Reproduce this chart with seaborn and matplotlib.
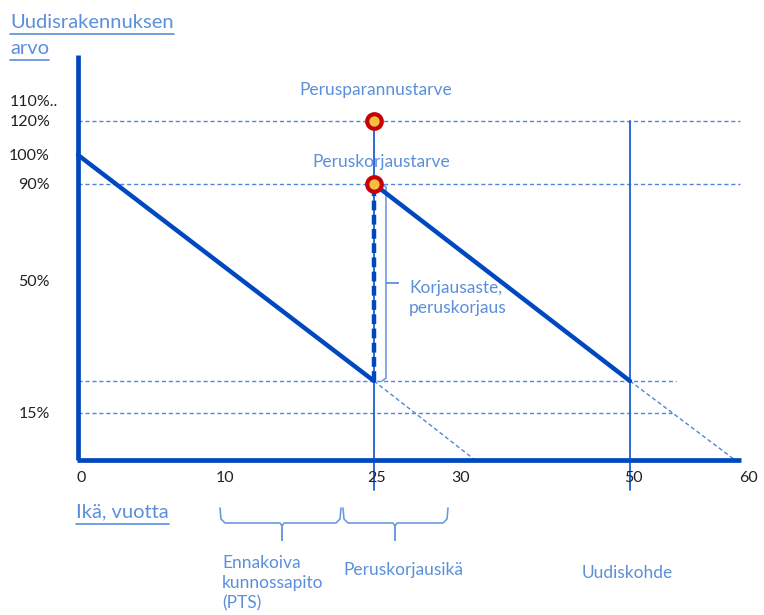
import matplotlib
matplotlib.use("Agg")
import matplotlib.pyplot as plt
import seaborn as sns
import pandas as pd

sns.set_theme(style="white")
plt.rcParams['font.family'] = ['Lato', 'DejaVu Sans']

# schematic layout (not to scale): tick labels and where they sit on the axes
age_labels = ['0', '10', '25', '30', '50', '60']
age_pos = [78, 222, 374, 458, 630, 745]
value_labels = ['110%..\n120%', '100%', '90%', '50%', '15%']
value_pos = [121, 155, 184, 281, 413]
low_pos = 381          # unlabeled value level reached before renovation
origin = (78, 460)
x_end = 741
y_top = 55

ax_x = dict(zip(age_labels, age_pos))
ax_y = dict(zip(['120%', '100%', '90%', '50%', '15%'], value_pos))

THICK = '#0048bf'
THIN = '#1c5fd3'
DASH = '#4f86da'
TXT = '#5b8fdb'
TICK = '#222222'

fig = plt.figure(figsize=(7.64, 6.15), dpi=100)
ax = fig.add_axes([0, 0, 1, 1])
ax.set_xlim(0, 764)
ax.set_ylim(615, 0)
ax.axis('off')

# horizontal dashed guides
guides = pd.DataFrame({
    'y': [ax_y['120%'], ax_y['90%'], low_pos, ax_y['15%']],
    'x1': [740, 740, 676, 672],
})
for _, g in guides.iterrows():
    ax.plot([origin[0], g.x1], [g.y, g.y], color=DASH, lw=1.0,
            dashes=(3, 2), zorder=1)

# thin verticals at 25 and 50 years
for a in ['25', '50']:
    ax.plot([ax_x[a], ax_x[a]], [ax_y['120%'], 490], color=THIN, lw=1.3, zorder=2)

# value curves
dep1 = pd.DataFrame({'x': [ax_x['0'], ax_x['25']], 'y': [ax_y['100%'], low_pos]})
dep2 = pd.DataFrame({'x': [ax_x['25'], ax_x['50']], 'y': [ax_y['90%'], low_pos]})
sns.lineplot(data=dep1, x='x', y='y', ax=ax, color=THICK, lw=3.2, zorder=3)
sns.lineplot(data=dep2, x='x', y='y', ax=ax, color=THICK, lw=3.2, zorder=3)

# continuation (dashed) lines to the x axis
ax.plot([ax_x['25'], 475], [low_pos, origin[1]], color=DASH, lw=1.0, dashes=(3, 2), zorder=2)
ax.plot([ax_x['50'], 735], [low_pos, origin[1]], color=DASH, lw=1.0, dashes=(3, 2), zorder=2)

# renovation jump
ax.plot([ax_x['25'], ax_x['25']], [low_pos, ax_y['90%']], color=THICK, lw=3.2,
        dashes=(2.2, 1.0), zorder=3)

# axes
ax.plot([origin[0], origin[0]], [origin[1], y_top], color=THICK, lw=3.4,
        solid_capstyle='butt', zorder=4)
ax.plot([origin[0] - 1, x_end], [origin[1], origin[1]], color=THICK, lw=3.4,
        solid_capstyle='butt', zorder=4)

# markers
ax.plot([ax_x['25'], ax_x['25']], [ax_y['120%'], ax_y['90%']], ls='none', marker='o',
        ms=10.5, mfc='#f2c03a', mec='#c8000a', mew=3.0, zorder=5)

# tick labels
for lab, xp in zip(age_labels, age_pos):
    ax.text(xp + 3, 478, lab, ha='center', va='center', fontsize=11.5, color=TICK)
for lab, yp in zip(value_labels, value_pos):
    if '\n' in lab:
        top, bottom = lab.split('\n')
        ax.text(10, yp - 19, top, ha='left', va='center', fontsize=11.5, color=TICK)
        ax.text(10, yp + 1, bottom, ha='left', va='center', fontsize=11.5, color=TICK)
    else:
        ax.text(50, yp + 1, lab, ha='right', va='center', fontsize=11.5, color=TICK)


def underlined(x, y, s, size):
    t = ax.text(x, y, s, ha='left', va='center', fontsize=size, color=TXT)
    fig.canvas.draw()
    bb = t.get_window_extent().transformed(ax.transData.inverted())
    ax.plot([bb.x0, bb.x1], [y + 12, y + 12], color=TXT, lw=1.2)


underlined(10, 22, 'Uudisrakennuksen', 14.5)
underlined(10, 48, 'arvo', 14.5)
underlined(76, 512, 'Ikä, vuotta', 14.5)

ax.text(376, 90, 'Perusparannustarve', ha='center', va='center', fontsize=12.5, color=TXT)
ax.text(381, 162, 'Peruskorjaustarve', ha='center', va='center', fontsize=12.5, color=TXT)
ax.text(409, 298, 'Korjausaste,\nperuskorjaus', ha='left', va='center', fontsize=12.5,
        color=TXT, linespacing=1.25)
ax.text(222, 583, 'Ennakoiva\nkunnossapito\n(PTS)', ha='left', va='center', fontsize=12.5,
        color=TXT, linespacing=1.3)
ax.text(343, 570, 'Peruskorjausikä', ha='left', va='center', fontsize=12.5, color=TXT)
ax.text(582, 573, 'Uudiskohde', ha='left', va='center', fontsize=12.5, color=TXT)

# braces
BR = '#6d9be0'
ax.plot([382, 386, 386, 398, 386, 386, 382],
        [ax_y['90%'], ax_y['90%'] + 3, 283, 283, 283, low_pos - 3, low_pos],
        color=BR, lw=1.2)
for x0, xm, x1 in [(220, 282, 341), (343, 395, 448)]:
    ax.plot([x0, x0 + 1, x0 + 5, xm - 2, xm, xm, xm, xm + 2, x1 - 5, x1 - 1, x1],
            [508, 519, 523, 523, 526, 540, 526, 523, 523, 519, 508], color=BR, lw=1.2)

fig.savefig('out.png', dpi=100)
